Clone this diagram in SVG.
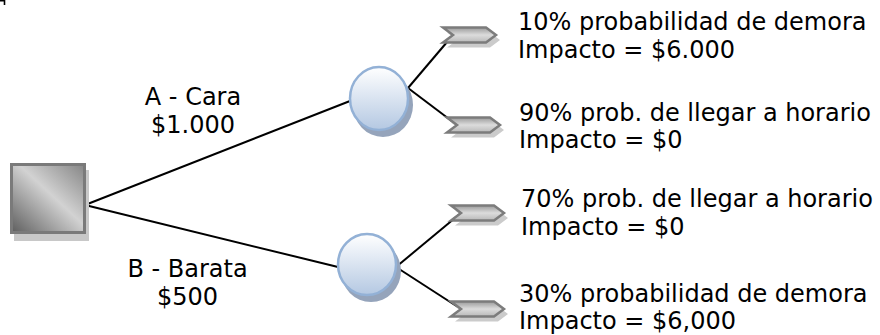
<svg xmlns="http://www.w3.org/2000/svg" width="880" height="335" viewBox="0 0 880 335">
<defs>
<linearGradient id="sq" x1="0" y1="1" x2="1" y2="0">
<stop offset="0" stop-color="#5e5e5e"/>
<stop offset="0.55" stop-color="#d2d2d2"/>
<stop offset="1" stop-color="#858585"/>
</linearGradient>
<linearGradient id="ci" x1="0" y1="0" x2="0" y2="1">
<stop offset="0" stop-color="#ffffff"/>
<stop offset="1" stop-color="#b4c8e2"/>
</linearGradient>
<linearGradient id="ch" x1="0" y1="0" x2="0" y2="1">
<stop offset="0" stop-color="#9a9a9a"/>
<stop offset="0.5" stop-color="#dcdcdc"/>
<stop offset="1" stop-color="#b8b8b8"/>
</linearGradient>
<g id="chev">
<polygon points="4,5 47,5 57,12.5 47,20 4,20 14,12.5" fill="#cbcbcb"/>
<polygon points="0,0 43,0 53,7.5 43,15 0,15 10,7.5" fill="url(#ch)" stroke="#7c7c7c" stroke-width="2.5" stroke-linejoin="miter"/>
</g>
</defs>
<style>
.t{font-family:"DejaVu Sans",Verdana,sans-serif;font-size:24px;fill:#000}
.c{text-anchor:middle}
.ln{stroke:#000;stroke-width:2;fill:none}
.circ{fill:url(#ci);stroke:#93b1d6;stroke-width:2.5}
.sh{fill:#95a4bb}
</style>
<path d="M0,0.8 H4.5 V5" stroke="#000" stroke-width="1.6" fill="none"/>
<g id="connectors">
<line class="ln" x1="85" y1="205" x2="350" y2="101"/>
<line class="ln" x1="85" y1="205" x2="338" y2="267"/>
<line class="ln" x1="408" y1="88" x2="453" y2="35"/>
<line class="ln" x1="408" y1="88" x2="457" y2="125"/>
<line class="ln" x1="396" y1="267" x2="461" y2="213"/>
<line class="ln" x1="396" y1="267" x2="461" y2="309"/>
</g>
<g id="decision">
<rect x="14" y="170" width="75" height="71" fill="#c8c8c8"/>
<rect x="11.5" y="164.5" width="73" height="68" fill="url(#sq)" stroke="#7a7a7a" stroke-width="3"/>
</g>
<g id="chance1">
<ellipse class="sh" cx="383" cy="105" rx="30" ry="32"/>
<ellipse class="circ" cx="379" cy="98.5" rx="29" ry="31.5"/>
</g>
<g id="chance2">
<ellipse class="sh" cx="371" cy="271" rx="30" ry="31"/>
<ellipse class="circ" cx="367" cy="264.5" rx="29" ry="30.5"/>
</g>
<g id="end1"><use href="#chev" x="443" y="27.5"/></g>
<g id="end2"><use href="#chev" x="447" y="117.5"/></g>
<g id="end3"><use href="#chev" x="451" y="205.5"/></g>
<g id="end4"><use href="#chev" x="451" y="301.5"/></g>
<g id="label-a">
<text class="t c" x="193" y="105">A - Cara</text>
<text class="t c" x="193" y="133">$1.000</text>
</g>
<g id="label-b">
<text class="t c" x="187.5" y="277">B - Barata</text>
<text class="t c" x="187.5" y="305">$500</text>
</g>
<g id="text1">
<text class="t" x="518" y="30">10% probabilidad de demora</text>
<text class="t" x="518" y="58">Impacto = $6.000</text>
</g>
<g id="text2">
<text class="t" x="519" y="121">90% prob. de llegar a horario</text>
<text class="t" x="519" y="148">Impacto = $0</text>
</g>
<g id="text3">
<text class="t" x="521" y="207">70% prob. de llegar a horario</text>
<text class="t" x="521" y="235">Impacto = $0</text>
</g>
<g id="text4">
<text class="t" x="519" y="302">30% probabilidad de demora</text>
<text class="t" x="519" y="329">Impacto = $6,000</text>
</g>
</svg>
